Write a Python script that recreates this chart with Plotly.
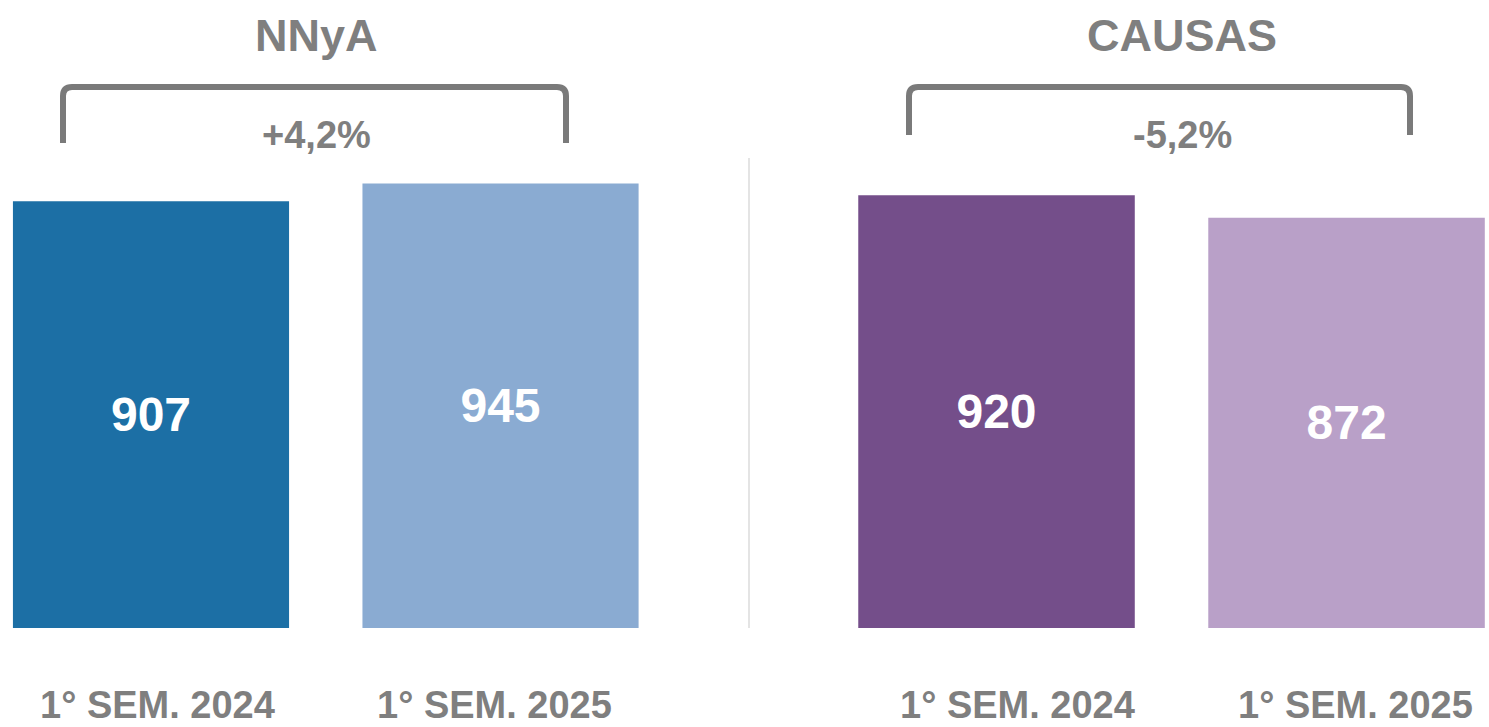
import plotly.graph_objects as go

# ---- data ----
categories = ["1° SEM. 2024", "1° SEM. 2025"]
nnya_values = [907, 945]
causas_values = [920, 872]
group_titles = ["NNyA", "CAUSAS"]
group_changes = ["+4,2%", "-5,2%"]

nnya_colors = ["#1c6fa5", "#8aabd2"]
causas_colors = ["#744e8a", "#b9a0c8"]

W, H = 1489, 727
GRAY = "#7f7f7f"
FONT = "Liberation Sans, Arial, sans-serif"

fig = go.Figure()
fig.add_trace(go.Bar(
    x=categories, y=nnya_values, marker=dict(color=nnya_colors, line=dict(width=0)),
    width=0.79, text=nnya_values, textposition="inside", insidetextanchor="middle",
    textfont=dict(color="white", size=48, family=FONT, weight="bold"),
    xaxis="x", yaxis="y", showlegend=False, hoverinfo="x+y",
))
fig.add_trace(go.Bar(
    x=categories, y=causas_values, marker=dict(color=causas_colors, line=dict(width=0)),
    width=0.79, text=causas_values, textposition="inside", insidetextanchor="middle",
    textfont=dict(color="white", size=48, family=FONT, weight="bold"),
    xaxis="x2", yaxis="y2", showlegend=False, hoverinfo="x+y",
))

yr = [-210.5, 1335]
fig.update_layout(
    width=W, height=H,
    margin=dict(l=0, r=0, t=0, b=0),
    paper_bgcolor="white", plot_bgcolor="white",
    xaxis=dict(domain=[0, 0.5], range=[-0.432, 1.698], visible=False, type="category"),
    xaxis2=dict(domain=[0.5, 1], range=[-0.72, 1.407], visible=False, type="category"),
    yaxis=dict(range=yr, visible=False),
    yaxis2=dict(range=yr, visible=False, anchor="x2"),
)

def px(x):
    return x / W

def py(y):
    return (H - y) / H

# category labels
label_shift = [[6, -6], [21, 9]]
for axi, xa in enumerate(["x", "x2"]):
    for ci, cat in enumerate(categories):
        fig.add_annotation(
            x=cat, xref=xa, y=0, yref="paper", text=cat, showarrow=False,
            xshift=label_shift[axi][ci], xanchor="center", yanchor="bottom",
            borderpad=0,
            font=dict(size=38, color=GRAY, family=FONT, weight="bold"),
        )

# titles, brackets and changes
centers = [316, 1182]
brackets = [(63, 566, 87, 143), (909, 1410, 87, 135)]
for i in range(2):
    fig.add_annotation(
        x=px(centers[i]), xref="paper", y=py(36), yref="paper", text=group_titles[i],
        showarrow=False, xanchor="center", yanchor="middle",
        font=dict(size=45, color=GRAY, family=FONT, weight="bold"),
    )
    fig.add_annotation(
        x=px(centers[i]), xref="paper", y=py(135), yref="paper", text=group_changes[i],
        showarrow=False, xanchor="center", yanchor="middle",
        font=dict(size=38, color=GRAY, family=FONT, weight="bold"),
    )
    x0, x1, yt, yb = brackets[i]
    r = 9
    path = (f"M {px(x0)},{py(yb)} L {px(x0)},{py(yt + r)} "
            f"Q {px(x0)},{py(yt)} {px(x0 + r)},{py(yt)} "
            f"L {px(x1 - r)},{py(yt)} "
            f"Q {px(x1)},{py(yt)} {px(x1)},{py(yt + r)} "
            f"L {px(x1)},{py(yb)}")
    fig.add_shape(type="path", path=path, xref="paper", yref="paper",
                  line=dict(color="#7a7a7a", width=6))

# separator
fig.add_shape(type="line", xref="paper", yref="paper",
              x0=px(749), x1=px(749), y0=py(628), y1=py(158),
              line=dict(color="#e4e4e4", width=2))

fig.write_html("out.html", config={"displayModeBar": False},
               post_script="document.body.style.margin='0';")
